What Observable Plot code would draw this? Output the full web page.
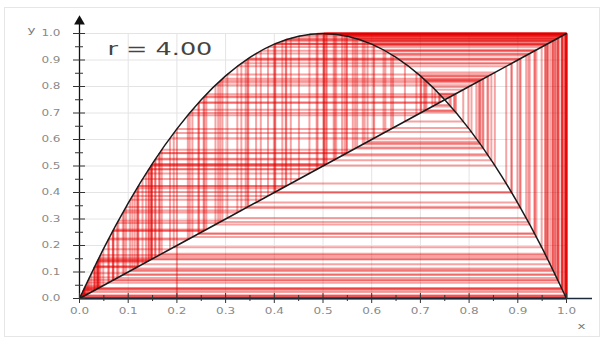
<!DOCTYPE html>
<html>
<head>
<meta charset="utf-8">
<script src="https://cdn.jsdelivr.net/npm/d3@7"></script>
<script src="https://cdn.jsdelivr.net/npm/@observablehq/plot@0.6"></script>
<style>
  html, body { margin: 0; padding: 0; background: #fff; }
  #wrap { position: relative; width: 602px; height: 338px; }
  #frame { position: absolute; left: 4px; top: 7px; width: 594px; height: 328px; border: 1px solid #e6e6e6; pointer-events: none; }
</style>
</head>
<body>
<div id="wrap"><div id="frame"></div></div>
<script>
const r = 4.00;

// orbit values of the cobweb (read / estimated from the picture)
const orbit = [
  0.2, 0.64, 0.9216, 0.2890, 0.8219, 0.5855, 0.9708, 0.1134, 0.4022, 0.9617,
  0.1473, 0.5024, 0.99998, 0.00008, 0.00032, 0.00128, 0.00511, 0.02035, 0.07974, 0.2935,
  0.8294, 0.5660, 0.9826, 0.0684, 0.2549, 0.7597, 0.7302, 0.7880, 0.6682, 0.8868,
  0.4015, 0.9612, 0.1492, 0.5078, 0.99976, 0.00096, 0.00384, 0.01529, 0.06021, 0.22632,
  0.7004, 0.8394, 0.5392, 0.99385, 0.02445, 0.09541, 0.34523, 0.90418, 0.34656, 0.90582,
  0.34124, 0.89918, 0.36262, 0.92451, 0.27917, 0.80494, 0.62805, 0.93441, 0.24515, 0.74021,
  0.76920, 0.71012, 0.82340, 0.58165, 0.97333, 0.10384, 0.37223, 0.93470, 0.24414, 0.73814,
  0.77316, 0.70154, 0.83753, 0.54430, 0.99215, 0.03115, 0.12072, 0.42459, 0.97725, 0.08893,
  0.32409, 0.87622, 0.43384, 0.98249, 0.06881, 0.25630, 0.76244, 0.72450, 0.79840, 0.64383,
  0.91725, 0.30361, 0.84572, 0.52191, 0.99808, 0.00767, 0.03044, 0.11805, 0.41646, 0.97208,
  0.10856, 0.38710, 0.94902, 0.19352, 0.62428, 0.93822, 0.23185, 0.71238, 0.81958, 0.59148,
  0.96653, 0.12940, 0.45062, 0.99025, 0.03862, 0.14851, 0.50582, 0.99986, 0.00056, 0.00224,
  0.00894, 0.03544, 0.13674, 0.47217, 0.99690, 0.01236, 0.04883, 0.18578, 0.60506, 0.95585,
  0.16880, 0.56123, 0.98500, 0.05910, 0.22243, 0.69182, 0.85282, 0.50207, 0.99998, 0.00007,
  0.00028, 0.00112, 0.004475, 0.01782, 0.07001, 0.26043, 0.77043, 0.70747, 0.82782, 0.57014,
  0.98032, 0.07717, 0.28486, 0.81486, 0.60345, 0.95719, 0.16391, 0.54818, 0.99071, 0.03682,
  0.14186, 0.48694, 0.99932, 0.002718, 0.010843, 0.042902, 0.16424, 0.54906, 0.99037, 0.03815,
  0.14678, 0.50094, 0.99999, 0.00004, 0.00016, 0.00064, 0.002558, 0.010206, 0.040407, 0.15510,
  0.52418, 0.99766, 0.00934, 0.03701, 0.14256, 0.48894, 0.99951, 0.00196, 0.007825, 0.031055,
  0.12036, 0.42350, 0.97659, 0.09145, 0.33235, 0.88758, 0.39913, 0.95930, 0.15617, 0.52712,
  0.99706
];

// sampled points of the map curve
const curveX = [0, 0.05, 0.1, 0.15, 0.2, 0.25, 0.3, 0.35, 0.4, 0.45, 0.5, 0.55, 0.6, 0.65, 0.7, 0.75, 0.8, 0.85, 0.9, 0.95, 1];
const curveY = [0, 0.19, 0.36, 0.51, 0.64, 0.75, 0.84, 0.91, 0.96, 0.99, 1.0, 0.99, 0.96, 0.91, 0.84, 0.75, 0.64, 0.51, 0.36, 0.19, 0];

const majorTicks = [0, 0.1, 0.2, 0.3, 0.4, 0.5, 0.6, 0.7, 0.8, 0.9, 1.0];
const minorTicks = [0.05, 0.15, 0.25, 0.35, 0.45, 0.55, 0.65, 0.75, 0.85, 0.95];
const tickLabels = ["0.0", "0.1", "0.2", "0.3", "0.4", "0.5", "0.6", "0.7", "0.8", "0.9", "1.0"];

// cobweb segments built from the orbit
const segs = [];
for (let i = 0; i < orbit.length - 1; i++) {
  const a = orbit[i], b = orbit[i + 1];
  segs.push({x1: a, y1: i === 0 ? 0 : a, x2: a, y2: b});
  segs.push({x1: a, y1: b, x2: b, y2: b});
}
const curve = curveX.map((x, i) => ({x, y: curveY[i]}));
const labelOf = d => tickLabels[majorTicks.indexOf(d)];

const font = "DejaVu Sans";
const plot = Plot.plot({
  width: 602,
  height: 338,
  marginLeft: 79,
  marginRight: 36,
  marginTop: 33,
  marginBottom: 40,
  style: {fontFamily: font, background: "transparent"},
  x: {domain: [0, 1]},
  y: {domain: [0, 1]},
  marks: [
    Plot.ruleX(majorTicks.slice(1), {stroke: "#e4e4e4", strokeWidth: 1}),
    Plot.ruleY(majorTicks.slice(1), {stroke: "#e4e4e4", strokeWidth: 1}),
    Plot.link(segs, {x1: "x1", y1: "y1", x2: "x2", y2: "y2", stroke: "#e60000", strokeOpacity: 0.36, strokeWidth: 2}),
    Plot.line(curve, {x: "x", y: "y", curve: "natural", stroke: "#1a1a1a", strokeWidth: 1.5}),
    Plot.line(majorTicks, {x: d => d, y: d => d, stroke: "#1a1a1a", strokeWidth: 1.5}),
    // axis lines
    Plot.ruleX([0], {stroke: "#111", strokeWidth: 1.3, insetTop: -14}),
    Plot.ruleY([0], {stroke: "#1a2a3a", strokeWidth: 1.3, insetRight: -26}),
    Plot.dot([0], {frameAnchor: "top-left", dy: -12, symbol: "triangle", r: 4, fill: "#111", stroke: "none"}),
    // crossing ticks
    Plot.axisY(majorTicks, {tickSize: 12, dx: 6, tickFormat: () => "", label: null, stroke: "#333"}),
    Plot.axisY(minorTicks, {tickSize: 8, dx: 4, tickFormat: () => "", label: null, stroke: "#333"}),
    Plot.axisX(majorTicks, {tickSize: 10, dy: -5, tickFormat: () => "", label: null, stroke: "#333"}),
    Plot.axisX(minorTicks, {tickSize: 6, dy: -3, tickFormat: () => "", label: null, stroke: "#333"}),
    // tick labels
    Plot.axisY(majorTicks, {tickSize: 0, tickPadding: 19, tickFormat: labelOf, label: null, fontSize: 8, fill: "#8a8a8a"}),
    Plot.axisX(majorTicks, {tickSize: 0, tickPadding: 10, tickFormat: labelOf, label: null, fontSize: 8, fill: "#8a8a8a"}),
    // axis names
    Plot.text(["y"], {frameAnchor: "top-left", dx: -52, dy: -7, fontSize: 9, fill: "#777"}),
    Plot.text(["x"], {frameAnchor: "bottom-right", dx: 19, dy: 30, fontSize: 9, fill: "#777"}),
    // title
    Plot.text([`r = ${r.toFixed(2)}`], {frameAnchor: "top-left", textAnchor: "start", lineAnchor: "middle", dx: 28, dy: 16, fontSize: 17, fill: "#444"})
  ]
});

document.getElementById("wrap").prepend(plot);

// horizontally widen glyphs like the reference
plot.querySelectorAll("text").forEach(t => {
  if (!t.textContent) return;
  const L = t.getComputedTextLength();
  if (L > 0) {
    t.setAttribute("textLength", (L * 1.5).toFixed(2));
    t.setAttribute("lengthAdjust", "spacingAndGlyphs");
  }
});
</script>
</body>
</html>
